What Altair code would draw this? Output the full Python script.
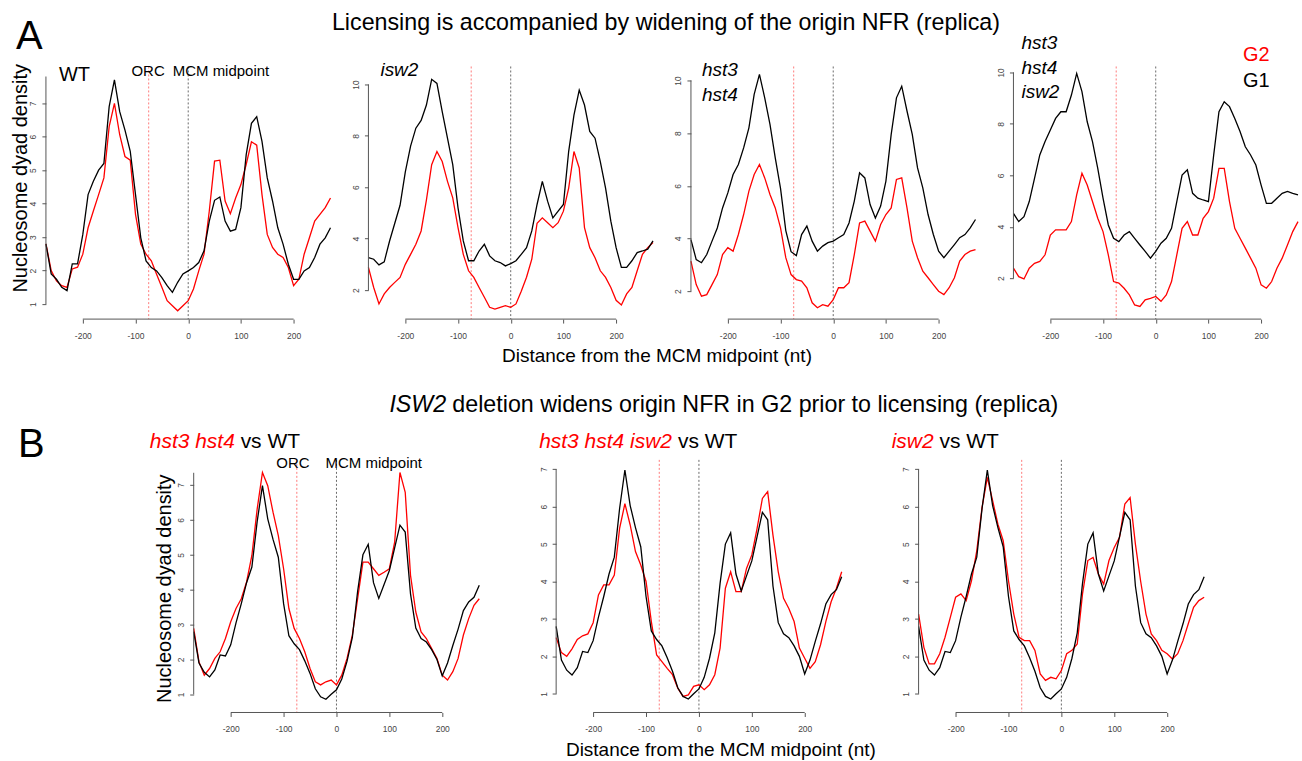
import altair as alt
import pandas as pd

# ---------------- data ----------------
X = list(range(-270, 271, 10))
XTICKS = [-200, -100, 0, 100, 200]
ORC_X = -75
MCM_X = 0

# Panel A (G2 red, G1 black)
A1_G2 = [2.8, 2.0, 1.69, 1.55, 1.5, 2.05, 2.1, 2.49, 3.28, 3.78,
         4.27, 4.77, 6.3, 7.0, 6.06, 5.41, 5.3, 3.68, 2.79, 2.49,
         2.29, 1.89, 1.5, 1.1, 0.95, 0.8, 0.95, 1.1, 1.45, 1.99,
         2.49, 3.78, 5.27, 5.3, 4.08, 3.7, 4.17, 4.57, 5.17, 5.85,
         5.75, 4.27, 3.08, 2.69, 2.49, 2.39, 2.09, 1.55, 1.74, 2.49,
         2.98, 3.48, 3.68, 3.88, 4.17]
A1_G1 = [2.8, 1.9, 1.74, 1.5, 1.4, 2.2, 2.2, 3.08, 4.27, 4.67,
         5.0, 5.2, 6.9, 7.7, 6.75, 6.2, 5.56, 4.27, 2.98, 2.29,
         2.09, 1.99, 1.79, 1.55, 1.35, 1.65, 1.9, 1.99, 2.09, 2.24,
         2.59, 3.48, 4.1, 4.2, 3.48, 3.18, 3.23, 3.88, 5.46, 6.4,
         6.6, 5.86, 4.77, 4.08, 3.28, 2.79, 2.19, 1.74, 1.74, 1.99,
         2.09, 2.39, 2.79, 2.98, 3.28]

A2_G2 = [2.88, 2.1, 1.46, 1.85, 2.1, 2.3, 2.49, 3.0, 3.39, 3.78,
         4.3, 5.5, 6.88, 7.39, 7.0, 6.23, 5.59, 4.43, 3.39, 2.75,
         2.49, 2.1, 1.72, 1.33, 1.26, 1.33, 1.39, 1.33, 1.46, 1.95,
         2.5, 3.2, 4.6, 4.81, 4.62, 4.43, 4.62, 5.07, 5.97, 7.39,
         6.75, 4.43, 3.65, 3.26, 2.75, 2.49, 2.1, 1.6, 1.42, 1.85,
         2.1, 2.75, 3.39, 3.65, 3.85]
A2_G1 = [3.26, 3.2, 2.98, 3.1, 3.9, 4.6, 5.3, 6.6, 7.6, 8.3,
         8.6, 9.2, 10.2, 10.04, 8.94, 7.91, 6.88, 5.2, 3.91, 3.14,
         3.14, 3.52, 3.78, 3.33, 3.14, 3.07, 2.94, 3.03, 3.14, 3.39,
         3.65, 4.3, 5.33, 6.23, 5.46, 4.81, 5.07, 5.33, 7.4, 8.81,
         9.78, 9.2, 8.17, 7.91, 7.0, 5.97, 4.68, 3.65, 2.88, 2.88,
         3.14, 3.46, 3.52, 3.59, 3.91]

A3_G2 = [3.14, 2.25, 1.81, 1.87, 2.25, 2.63, 3.39, 3.65, 3.52, 4.15,
         4.91, 5.8, 6.43, 6.81, 6.3, 5.67, 5.16, 4.4, 3.27, 2.63,
         2.44, 2.38, 2.13, 1.56, 1.37, 1.49, 1.43, 1.68, 2.13, 2.13,
         2.32, 3.39, 4.59, 4.66, 4.28, 3.9, 4.53, 4.91, 5.16, 6.24,
         6.3, 5.16, 3.9, 3.27, 2.76, 2.51, 2.25, 2.0, 1.87, 2.13,
         2.51, 3.14, 3.39, 3.52, 3.58]
A3_G1 = [3.96, 3.2, 3.08, 3.39, 3.9, 4.4, 5.16, 5.73, 6.43, 6.81,
         7.44, 8.2, 9.47, 10.23, 9.34, 8.33, 7.06, 5.9, 4.3, 3.5,
         3.35, 4.15, 4.47, 3.9, 3.52, 3.71, 3.84, 3.9, 4.03, 4.15,
         4.59, 5.42, 6.49, 6.3, 5.29, 4.78, 5.23, 6.18, 7.95, 9.34,
         9.78, 8.84, 7.95, 6.68, 5.92, 4.91, 4.15, 3.52, 3.27, 3.52,
         3.77, 4.03, 4.15, 4.4, 4.72]

A4_G2 = [2.39, 2.06, 1.97, 2.39, 2.58, 2.65, 2.91, 3.68, 3.88, 3.88,
         3.88, 4.2, 5.24, 6.08, 5.62, 4.98, 4.33, 3.81, 2.91, 1.87,
         1.81, 1.61, 1.35, 0.96, 0.9, 1.16, 1.22, 1.29, 1.1, 1.35,
         1.87, 2.91, 3.94, 4.2, 3.68, 3.68, 4.33, 4.59, 5.11, 6.27,
         6.27, 4.98, 3.94, 3.55, 3.17, 2.78, 2.39, 1.74, 1.61, 1.87,
         2.39, 2.78, 3.29, 3.81, 4.2]
A4_G1 = [4.52, 4.2, 4.39, 4.98, 5.88, 6.79, 7.31, 7.76, 8.21, 8.47,
         8.47, 9.12, 9.96, 9.25, 8.08, 7.31, 6.27, 5.11, 4.07, 3.55,
         3.42, 3.68, 3.81, 3.55, 3.29, 3.04, 2.78, 3.04, 3.36, 3.55,
         3.94, 4.98, 6.01, 6.21, 5.3, 5.11, 5.04, 4.98, 6.79, 8.47,
         8.86, 8.67, 8.21, 7.7, 7.11, 6.79, 6.4, 5.62, 4.91, 4.91,
         5.11, 5.3, 5.37, 5.3, 5.24]

# Panel B (mutant red, WT black)
B_WT = [2.8, 1.9, 1.63, 1.5, 1.7, 2.13, 2.1, 2.42, 3.05, 3.6,
        4.2, 4.65, 5.95, 6.98, 6.03, 5.44, 4.93, 3.6, 2.68, 2.45,
        2.28, 1.96, 1.6, 1.16, 0.93, 0.86, 1.0, 1.13, 1.44, 1.95,
        2.63, 3.95, 5.0, 5.3, 4.2, 3.75, 4.15, 4.55, 5.2, 5.85,
        5.65, 3.88, 2.9, 2.6, 2.5, 2.28, 2.0, 1.53, 1.9, 2.4,
        2.87, 3.4, 3.65, 3.78, 4.13]
B1_MUT = [2.89, 1.93, 1.55, 1.74, 2.03, 2.22, 2.6, 3.08, 3.46, 3.74,
          4.22, 4.98, 6.31, 7.36, 6.98, 6.22, 5.55, 4.6, 3.46, 2.89,
          2.6, 2.22, 1.74, 1.36, 1.27, 1.36, 1.41, 1.27, 1.55, 2.03,
          2.7, 3.74, 4.79, 4.79, 4.6, 4.41, 4.5, 4.6, 5.36, 7.36,
          6.79, 4.41, 3.36, 2.79, 2.6, 2.31, 2.03, 1.55, 1.41, 1.65,
          2.03, 2.7, 3.17, 3.55, 3.74]
B2_MUT = [2.5, 2.1, 2.0, 2.2, 2.45, 2.55, 2.6, 2.9, 3.64, 3.91,
          3.91, 4.17, 5.42, 6.08, 5.51, 4.8, 4.44, 4.0, 2.93, 2.04,
          1.86, 1.68, 1.51, 1.15, 0.93, 0.97, 1.2, 1.24, 1.11, 1.24,
          1.51, 2.22, 3.82, 4.26, 3.73, 3.73, 4.35, 4.71, 5.42, 6.22,
          6.4, 5.24, 4.26, 3.55, 3.28, 2.93, 2.22, 1.95, 1.68, 1.86,
          2.31, 2.93, 3.46, 3.82, 4.26]
B3_MUT = [3.13, 2.24, 1.8, 1.8, 2.07, 2.51, 3.04, 3.58, 3.67, 3.49,
          4.02, 4.82, 5.98, 6.78, 6.16, 5.53, 5.09, 4.02, 3.13, 2.51,
          2.42, 2.42, 2.16, 1.53, 1.36, 1.44, 1.4, 1.62, 2.07, 2.16,
          2.33, 3.67, 4.56, 4.64, 4.2, 3.93, 4.56, 4.91, 5.18, 6.07,
          6.24, 5.0, 4.0, 3.13, 2.6, 2.42, 2.16, 2.07, 1.93, 2.07,
          2.42, 2.87, 3.31, 3.49, 3.58]

TITLE_A = "Licensing is accompanied by widening of the origin NFR (replica)"
TITLE_B_IT = "ISW2"
TITLE_B_REST = "deletion widens origin NFR in G2 prior to licensing (replica)"
YTITLE = "Nucleosome dyad density"
XTITLE = "Distance from the MCM midpoint (nt)"

# ---------------- style ----------------
RED = "#ff0000"
BLACK = "#000000"
FONT = "Liberation Sans"
H = 253
W_TOP = 285
W_BOT = 286


def label(text, x, y, size, color=BLACK, style="normal", align="left", angle=0,
          baseline="alphabetic"):
    return alt.Chart(pd.DataFrame({"t": [text]})).mark_text(
        align=align, baseline=baseline, fontSize=size, font=FONT,
        fontStyle=style, color=color, angle=angle
    ).encode(text="t:N", x=alt.value(x), y=alt.value(y))


def anchor(x, y):
    # invisible 1px rule used to pin the layout bounds
    return alt.Chart(pd.DataFrame({"s": [0]})).mark_rule(
        color="#ffffff", strokeWidth=1).encode(
        x=alt.value(x), x2=alt.value(x + 1), y=alt.value(y))


def panel(red, black, ydom, yticks, yline, width, extra):
    xs = alt.Scale(domain=[-270, 270], nice=False, zero=False)
    ys = alt.Scale(domain=ydom, nice=False, zero=False)
    xax = alt.Axis(values=XTICKS, domain=False, grid=False, tickSize=4,
                   tickColor="#555", labelPadding=8, labelFontSize=8.5,
                   labelColor="#444", labelFont=FONT, title=None,
                   labelExpr="'' + datum.value")
    yax = alt.Axis(values=yticks, domain=False, grid=False, tickSize=4,
                   tickColor="#555", labelAngle=270, labelAlign="center",
                   labelBaseline="bottom", labelPadding=4, labelFontSize=8.5,
                   labelColor="#444", labelFont=FONT, title=None,
                   labelExpr="'' + datum.value")
    xe = alt.X("x:Q", scale=xs, axis=xax)
    ye = alt.Y("v:Q", scale=ys, axis=yax)
    orc = alt.Chart(pd.DataFrame({"x": [ORC_X]})).mark_rule(
        color="#ff7a7a", strokeDash=[2, 2], strokeWidth=1).encode(x=xe)
    mcm = alt.Chart(pd.DataFrame({"x": [MCM_X]})).mark_rule(
        color="#444", strokeDash=[2, 2], strokeWidth=0.8).encode(x=xe)
    lr = alt.Chart(pd.DataFrame({"x": X, "v": red})).mark_line(
        color=RED, strokeWidth=1.3).encode(x=xe, y=ye)
    lb = alt.Chart(pd.DataFrame({"x": X, "v": black})).mark_line(
        color=BLACK, strokeWidth=1.3).encode(x=xe, y=ye)
    xl = alt.Chart(pd.DataFrame({"x": [XTICKS[0]], "x2": [XTICKS[-1]]})).mark_rule(
        color="#555").encode(x=xe, x2="x2:Q", y=alt.value(H))
    yl = alt.Chart(pd.DataFrame({"v": [yline[0]], "v2": [yline[1]]})).mark_rule(
        color="#555").encode(y=ye, y2="v2:Q", x=alt.value(0))
    return alt.layer(orc, mcm, lr, lb, xl, yl, *extra).properties(width=width, height=H)


A1 = panel(A1_G2, A1_G1, [0.55, 8.1], [1, 2, 3, 4, 5, 6, 7], [1, 7.8], W_TOP, [
    anchor(-45, -65),
    anchor(0, 315),
    label("A", -30, -18, 40),
    label(TITLE_A, 621, -37, 23.3, align="center"),
    label("WT", 13, 15, 20),
    label("ORC", 119, 10, 15, align="right"),
    label("MCM midpoint", 127, 10, 15),
    label(YTITLE, -25, 112, 20, align="center", angle=270, baseline="middle"),
    label(XTITLE, 612, 296, 19, align="center"),
])
A2 = panel(A2_G2, A2_G1, [0.87, 10.7], [2, 4, 6, 8, 10], [2, 10], W_TOP, [
    label("isw2", 12, 10, 19, style="italic"),
])
A3 = panel(A3_G2, A3_G1, [0.94, 10.53], [2, 4, 6, 8, 10], [2, 10], W_TOP, [
    label("hst3", 11, 10, 19, style="italic"),
    label("hst4", 11, 35, 19, style="italic"),
])
A4 = panel(A4_G2, A4_G1, [0.41, 10.23], [2, 4, 6, 8, 10], [2, 10], W_TOP, [
    label("hst3", 8, -18, 19, style="italic"),
    label("hst4", 8, 8, 19, style="italic"),
    label("isw2", 8, 32, 19, style="italic"),
    label("G2", 230, -5, 20, color=RED),
    label("G1", 230, 21, 20),
])

B1 = panel(B1_MUT, B_WT, [0.48, 7.72], [1, 2, 3, 4, 5, 6, 7], [1, 7.35], W_BOT, [
    anchor(0, -77),
    label("B", -176, -3, 40),
    label(TITLE_B_IT, 196, -48, 23.3, style="italic"),
    label(TITLE_B_REST, 259, -48, 23.3),
    label("hst3 hst4", -44, -12, 21, color=RED, style="italic"),
    label("vs WT", 47, -12, 21),
    label("ORC", 116, 8, 15, align="right"),
    label("MCM midpoint", 132, 8, 15),
    label(YTITLE, -29, 129, 20, align="center", angle=270, baseline="middle"),
])
B2 = panel(B2_MUT, B_WT, [0.5, 7.25], [1, 2, 3, 4, 5, 6, 7], [1, 7], W_BOT, [
    label("hst3 hst4 isw2", -17, -12, 21, color=RED, style="italic"),
    label("vs WT", 122, -12, 21),
    label(XTITLE, 165, 297, 19, align="center"),
])
B3 = panel(B3_MUT, B_WT, [0.5, 7.25], [1, 2, 3, 4, 5, 6, 7], [1, 7], W_BOT, [
    label("isw2", -27, -12, 21, color=RED, style="italic"),
    label("vs WT", 21, -12, 21),
])

spacer = alt.Chart(pd.DataFrame({"s": [0]})).mark_point(opacity=0).properties(width=71, height=H)

top = alt.hconcat(A1, A2, A3, A4, spacing=38, bounds="flush")
bottom = alt.hconcat(spacer, B1, B2, B3, spacing=77, bounds="flush")
chart = alt.vconcat(top, bottom, spacing=0,
                    padding={"left": 0, "top": 0, "right": 0, "bottom": 0}
                    ).configure_view(stroke="transparent")

chart.save("out.html", embed_options={"renderer": "svg", "actions": False})
